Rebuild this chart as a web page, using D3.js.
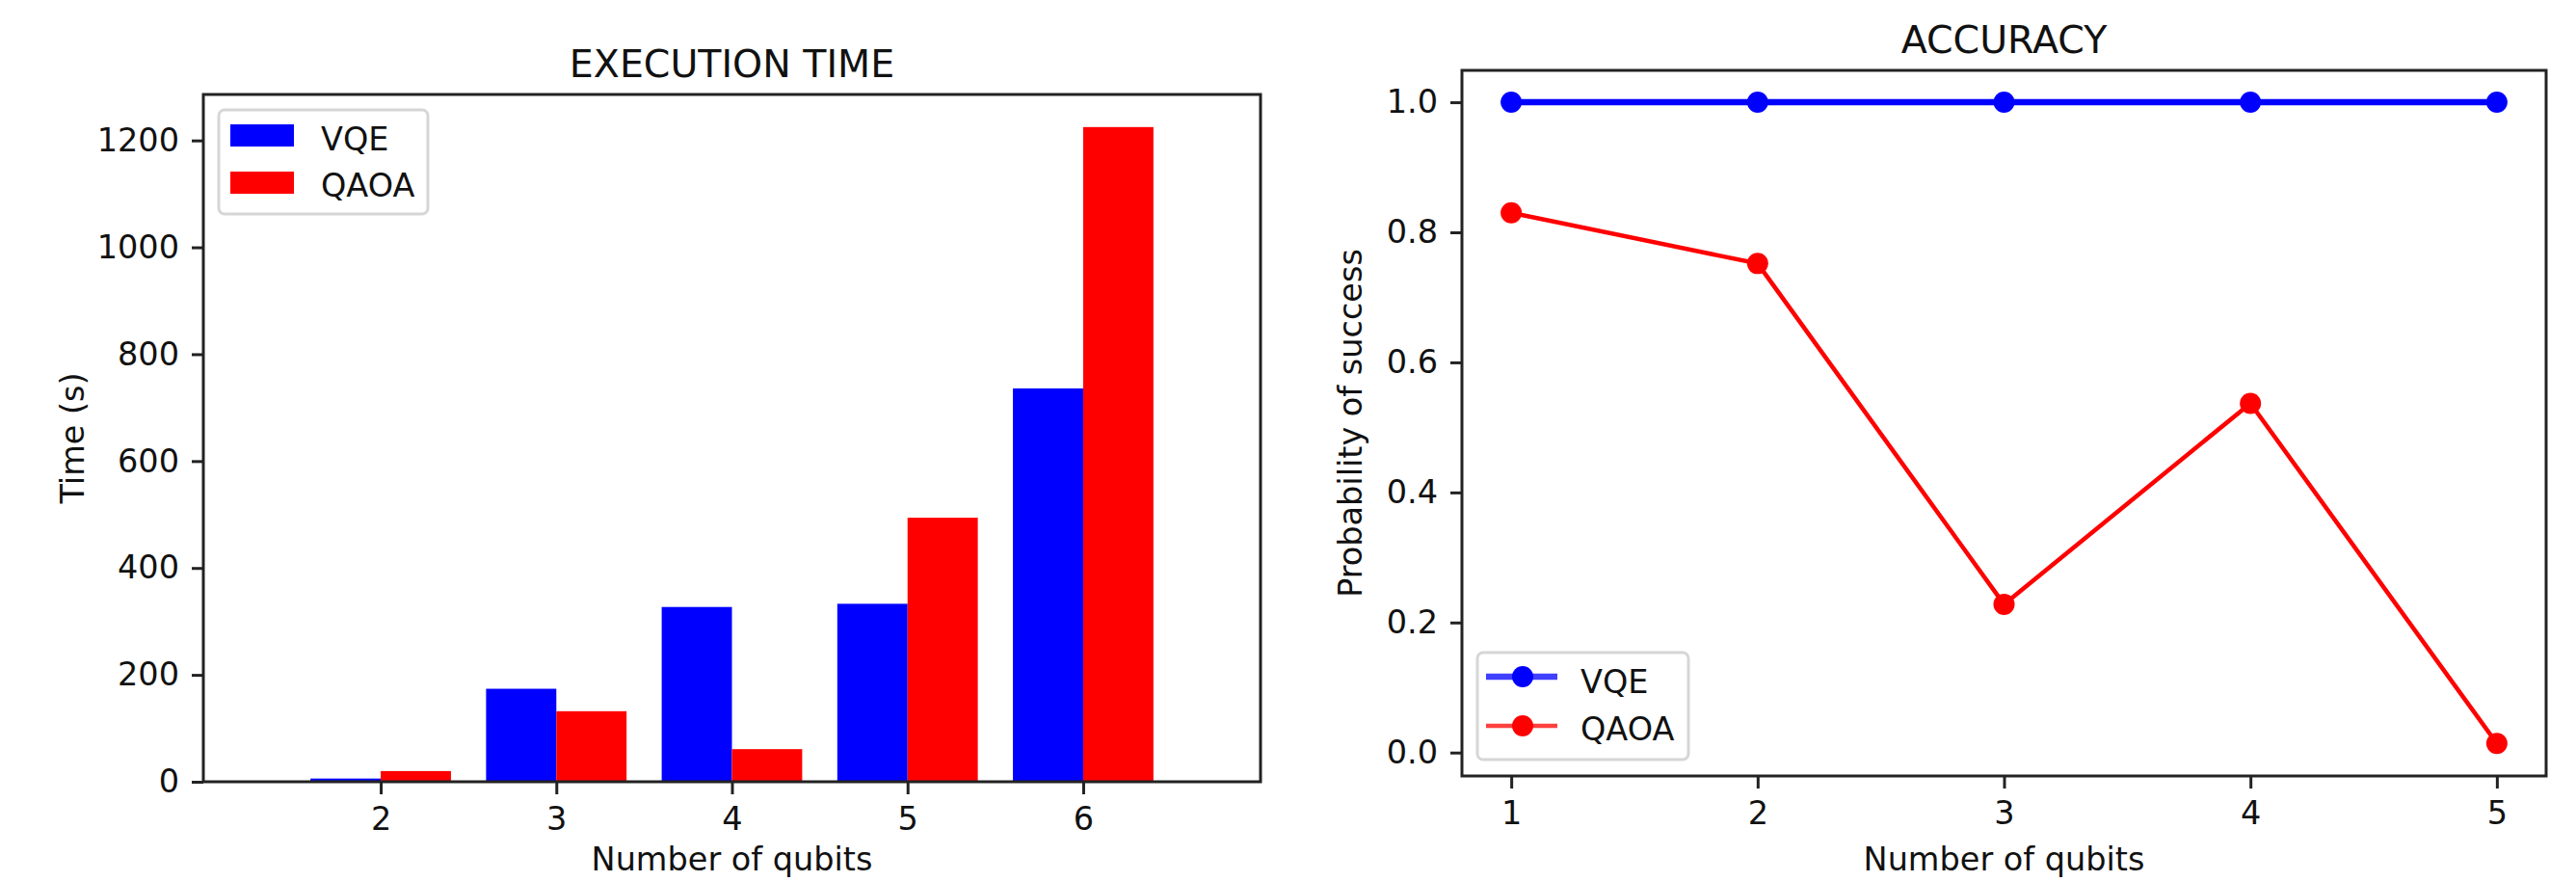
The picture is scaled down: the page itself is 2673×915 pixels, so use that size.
<!DOCTYPE html>
<html>
<head>
<meta charset="utf-8">
<script src="https://cdn.jsdelivr.net/npm/d3@7"></script>
<style>
  body { margin: 0; background: #fff; }
  text { font-family: "DejaVu Sans", sans-serif; fill: #111; }
</style>
</head>
<body>
<div id="chart"></div>
<script>
// --- Data ---
const timeQubits = [2, 3, 4, 5, 6];
const vqeTime = [6, 174, 327, 333, 736];
const qaoaTime = [20, 132, 61, 494, 1225];
const timeTicks = [0, 200, 400, 600, 800, 1000, 1200];

const accQubits = [1, 2, 3, 4, 5];
const vqeAcc = [1, 1, 1, 1, 1];
const qaoaAcc = [0.83, 0.752, 0.228, 0.537, 0.014];
const accTicks = [0, 0.2, 0.4, 0.6, 0.8, 1.0];

const seriesNames = ["VQE", "QAOA"];
const seriesColors = ["#0000ff", "#ff0000"];

// --- Layout ---
const W = 2673, H = 915;
const fontTick = 33.5, fontTitle = 39.5;
const dark = "#222";

const svg = d3.select("#chart").append("svg")
  .attr("width", W).attr("height", H);

function styleAxis(g) {
  g.select(".domain").remove();
  g.selectAll(".tick line").attr("stroke", dark).attr("stroke-width", 3);
  g.selectAll(".tick text").attr("font-size", fontTick).attr("fill", "#111")
    .attr("font-family", "DejaVu Sans, sans-serif");
}

function frame(box, title, xLabel, yLabel, yLabelX) {
  svg.append("rect")
    .attr("x", box.x0).attr("y", box.y0)
    .attr("width", box.x1 - box.x0).attr("height", box.y1 - box.y0)
    .attr("fill", "none").attr("stroke", dark).attr("stroke-width", 3);
  svg.append("text")
    .attr("x", (box.x0 + box.x1) / 2).attr("y", box.y0 - 18)
    .attr("text-anchor", "middle").attr("font-size", fontTitle)
    .text(title);
  svg.append("text")
    .attr("x", (box.x0 + box.x1) / 2).attr("y", 903)
    .attr("text-anchor", "middle").attr("font-size", fontTick)
    .text(xLabel);
  svg.append("text")
    .attr("transform", `translate(${yLabelX},${(box.y0 + box.y1) / 2}) rotate(-90)`)
    .attr("text-anchor", "middle").attr("font-size", fontTick)
    .text(yLabel);
}

// ===== Left: EXECUTION TIME (grouped bars) =====
const L = { x0: 211, x1: 1308, y0: 98, y1: 811 };
const xL = d3.scaleLinear().domain([0.99, 7.01]).range([L.x0, L.x1]);
const yL = d3.scaleLinear().domain([0, 1286]).range([L.y1, L.y0]);
const barW = 0.4;

const barsL = svg.append("g");
[vqeTime, qaoaTime].forEach((vals, si) => {
  barsL.selectAll(null)
    .data(timeQubits.map((q, i) => ({ q, v: vals[i] })))
    .enter().append("rect")
    .attr("x", d => xL(si === 0 ? d.q - barW : d.q))
    .attr("width", d => xL(d.q + barW) - xL(d.q))
    .attr("y", d => yL(d.v))
    .attr("height", d => yL(0) - yL(d.v))
    .attr("fill", seriesColors[si]);
});

svg.append("g").attr("transform", `translate(0,${L.y1})`)
  .call(d3.axisBottom(xL).tickValues(timeQubits).tickFormat(d3.format("d")).tickSize(13).tickPadding(13))
  .call(styleAxis);
svg.append("g").attr("transform", `translate(${L.x0},0)`)
  .call(d3.axisLeft(yL).tickValues(timeTicks).tickFormat(d3.format("d")).tickSize(12).tickPadding(13))
  .call(styleAxis);

frame(L, "EXECUTION TIME", "Number of qubits", "Time (s)", 87);

// legend (patches)
const legL = svg.append("g");
legL.append("rect")
  .attr("x", 227).attr("y", 114).attr("width", 217).attr("height", 108)
  .attr("rx", 6).attr("fill", "#fff").attr("fill-opacity", 0.8)
  .attr("stroke", "#d6d6d6").attr("stroke-width", 3);
seriesNames.forEach((name, i) => {
  legL.append("rect")
    .attr("x", 239).attr("y", 129 + i * 49).attr("width", 66).attr("height", 23)
    .attr("fill", seriesColors[i]);
  legL.append("text")
    .attr("x", 333).attr("y", 156 + i * 48)
    .attr("font-size", fontTick).text(name);
});

// ===== Right: ACCURACY (lines with markers) =====
const R = { x0: 1517, x1: 2642, y0: 73, y1: 805 };
const xR = d3.scaleLinear().domain([0.8, 5.2]).range([R.x0, R.x1]);
const yR = d3.scaleLinear().domain([-0.036, 1.049]).range([R.y1, R.y0]);

const lineGen = d3.line().x(d => xR(d.q)).y(d => yR(d.v));
const lineWidths = [6.5, 4.5];
[vqeAcc, qaoaAcc].forEach((vals, si) => {
  const pts = accQubits.map((q, i) => ({ q, v: vals[i] }));
  svg.append("path")
    .datum(pts)
    .attr("d", lineGen)
    .attr("fill", "none")
    .attr("stroke", seriesColors[si])
    .attr("stroke-width", lineWidths[si]);
  svg.append("g").selectAll("circle")
    .data(pts)
    .enter().append("circle")
    .attr("cx", d => xR(d.q)).attr("cy", d => yR(d.v))
    .attr("r", 11)
    .attr("fill", seriesColors[si]);
});

svg.append("g").attr("transform", `translate(0,${R.y1})`)
  .call(d3.axisBottom(xR).tickValues(accQubits).tickFormat(d3.format("d")).tickSize(13).tickPadding(13))
  .call(styleAxis);
svg.append("g").attr("transform", `translate(${R.x0},0)`)
  .call(d3.axisLeft(yR).tickValues(accTicks).tickFormat(d3.format(".1f")).tickSize(12).tickPadding(13))
  .call(styleAxis);

frame(R, "ACCURACY", "Number of qubits", "Probability of success", 1413);

// legend (line + marker)
const legR = svg.append("g");
legR.append("rect")
  .attr("x", 1533).attr("y", 677).attr("width", 219).attr("height", 111)
  .attr("rx", 6).attr("fill", "#fff").attr("fill-opacity", 0.8)
  .attr("stroke", "#d6d6d6").attr("stroke-width", 3);
seriesNames.forEach((name, i) => {
  const cy = 702 + i * 51;
  legR.append("line")
    .attr("x1", 1542).attr("x2", 1616).attr("y1", cy).attr("y2", cy)
    .attr("stroke", seriesColors[i]).attr("stroke-opacity", 0.75)
    .attr("stroke-width", lineWidths[i]);
  legR.append("circle")
    .attr("cx", 1580).attr("cy", cy).attr("r", 11)
    .attr("fill", seriesColors[i]);
  legR.append("text")
    .attr("x", 1640).attr("y", 719 + i * 49)
    .attr("font-size", fontTick).text(name);
});
</script>
</body>
</html>
